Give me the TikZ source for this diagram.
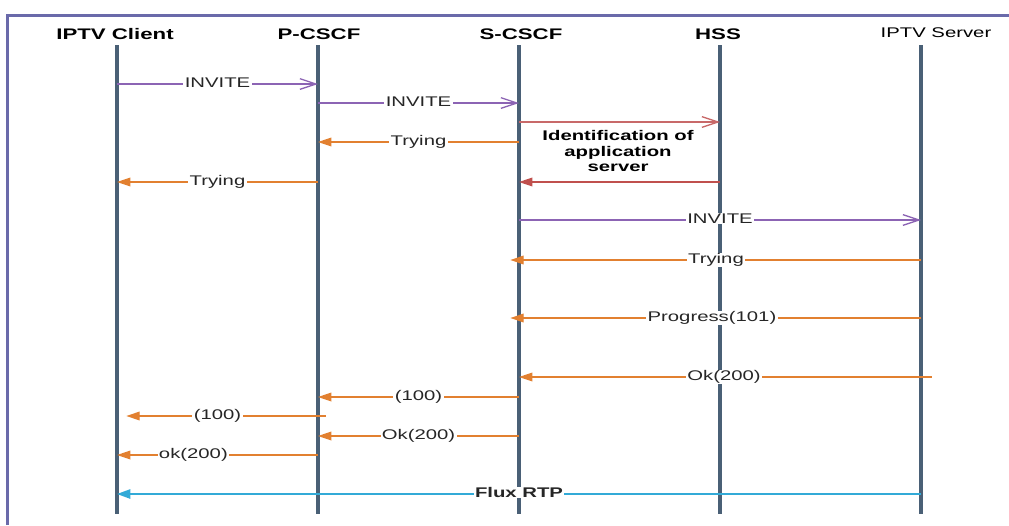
\documentclass[tikz,border=0pt]{standalone}
\usepackage{fontspec}
\setmainfont{Liberation Sans}[FakeStretch=1.45]
\usepackage{tikz}
\usetikzlibrary{arrows.meta, positioning, calc}
\definecolor{lifeslate}{RGB}{74,96,118}
\definecolor{framepurple}{RGB}{106,106,170}
\definecolor{sipviolet}{RGB}{140,100,180}
\definecolor{respamber}{RGB}{226,128,48}
\definecolor{hssrose}{RGB}{200,105,105}
\definecolor{hssred}{RGB}{192,80,77}
\definecolor{rtpcyan}{RGB}{50,170,215}

\begin{document}
\begin{tikzpicture}[x=0.75pt, y=-0.75pt,
    head/.style={anchor=base, font=\fontsize{11.5}{13}\selectfont\bfseries},
    life/.style={line width=3pt, lifeslate},
    lbl/.style={fill=white, inner xsep=1pt, inner ysep=0.5pt, anchor=base, yshift=-2.7pt,
                text=black!85, font=\fontsize{10.5}{12}\selectfont},
    inv/.style={-{Straight Barb[length=12pt, width=8pt]}, line width=1pt, sipviolet},
    resp/.style={-{Triangle[length=10pt, width=6.5pt]}, line width=1pt, respamber},
    askhss/.style={-{Straight Barb[length=12pt, width=8pt]}, line width=1pt, hssrose},
    ansshss/.style={-{Triangle[length=10pt, width=6.5pt]}, line width=1pt, hssred},
    rtp/.style={-{Triangle[length=10pt, width=7pt]}, line width=1.2pt, rtpcyan}]
    \useasboundingbox (0,0) rectangle (1009,525);
    \draw[framepurple, line width=2.2pt] (7.5,525) -- (7.5,15.5) -- (1009,15.5);
    % entities
    \node[head] (client) at (115,39) {IPTV Client};
    \node[head] (pcscfh) at (319,39) {P-CSCF};
    \node[head] (scscfh) at (521,39) {S-CSCF};
    \node[head] (hssh) at (718,39.5) {HSS};
    \node[head, font=\fontsize{10.5}{12}\selectfont] (serverh) at (936,37) {IPTV Server};
    \foreach \x/\n in {117/cl, 318/pc, 519/sc, 720/hs, 921/sv}
        \draw[life] (\x,45) coordinate (\n) -- (\x,514);
    % messages
    \draw[inv] (cl |- 0,84) -- node[lbl] {INVITE} (pc |- 0,84);
    \draw[inv] (pc |- 0,103) -- node[lbl] {INVITE} (sc |- 0,103);
    \draw[askhss] (sc |- 0,122) -- (hs |- 0,122);
    \draw[resp] (sc |- 0,142) -- node[lbl] {Trying} (pc |- 0,142);
    \node[align=center, font=\fontsize{10.5}{11.3}\selectfont\bfseries] (ident) at (618,151)
        {Identification of\\application\\server};
    \draw[ansshss] (hs |- 0,182) -- (sc |- 0,182);
    \draw[resp] (pc |- 0,182) -- node[lbl] {Trying} (cl |- 0,182);
    \draw[inv] (sc |- 0,220) -- node[lbl] {INVITE} (sv |- 0,220);
    \draw[resp, shorten >=-6.5pt] (sv |- 0,260) -- node[lbl, pos=.51] {Trying} (sc |- 0,260);
    \draw[resp, shorten >=-6.5pt] (sv |- 0,318) -- node[lbl, pos=.52] {Progress(101)} (sc |- 0,318);
    \draw[resp, shorten <=-8pt] (sv |- 0,377) -- node[lbl, pos=.49] {Ok(200)} (sc |- 0,377);
    \draw[resp] (sc |- 0,397) -- node[lbl] {(100)} (pc |- 0,397);
    \draw[resp, shorten <=-6pt, shorten >=7pt] (pc |- 0,416) -- node[lbl] {(100)} (cl |- 0,416);
    \draw[resp] (sc |- 0,436) -- node[lbl] {Ok(200)} (pc |- 0,436);
    \draw[resp] (pc |- 0,455) -- node[lbl, pos=.62] {ok(200)} (cl |- 0,455);
    \draw[rtp] (sv |- 0,494) -- node[lbl, font=\fontsize{10.5}{12}\selectfont\bfseries] {Flux RTP} (cl |- 0,494);
\end{tikzpicture}
\end{document}
